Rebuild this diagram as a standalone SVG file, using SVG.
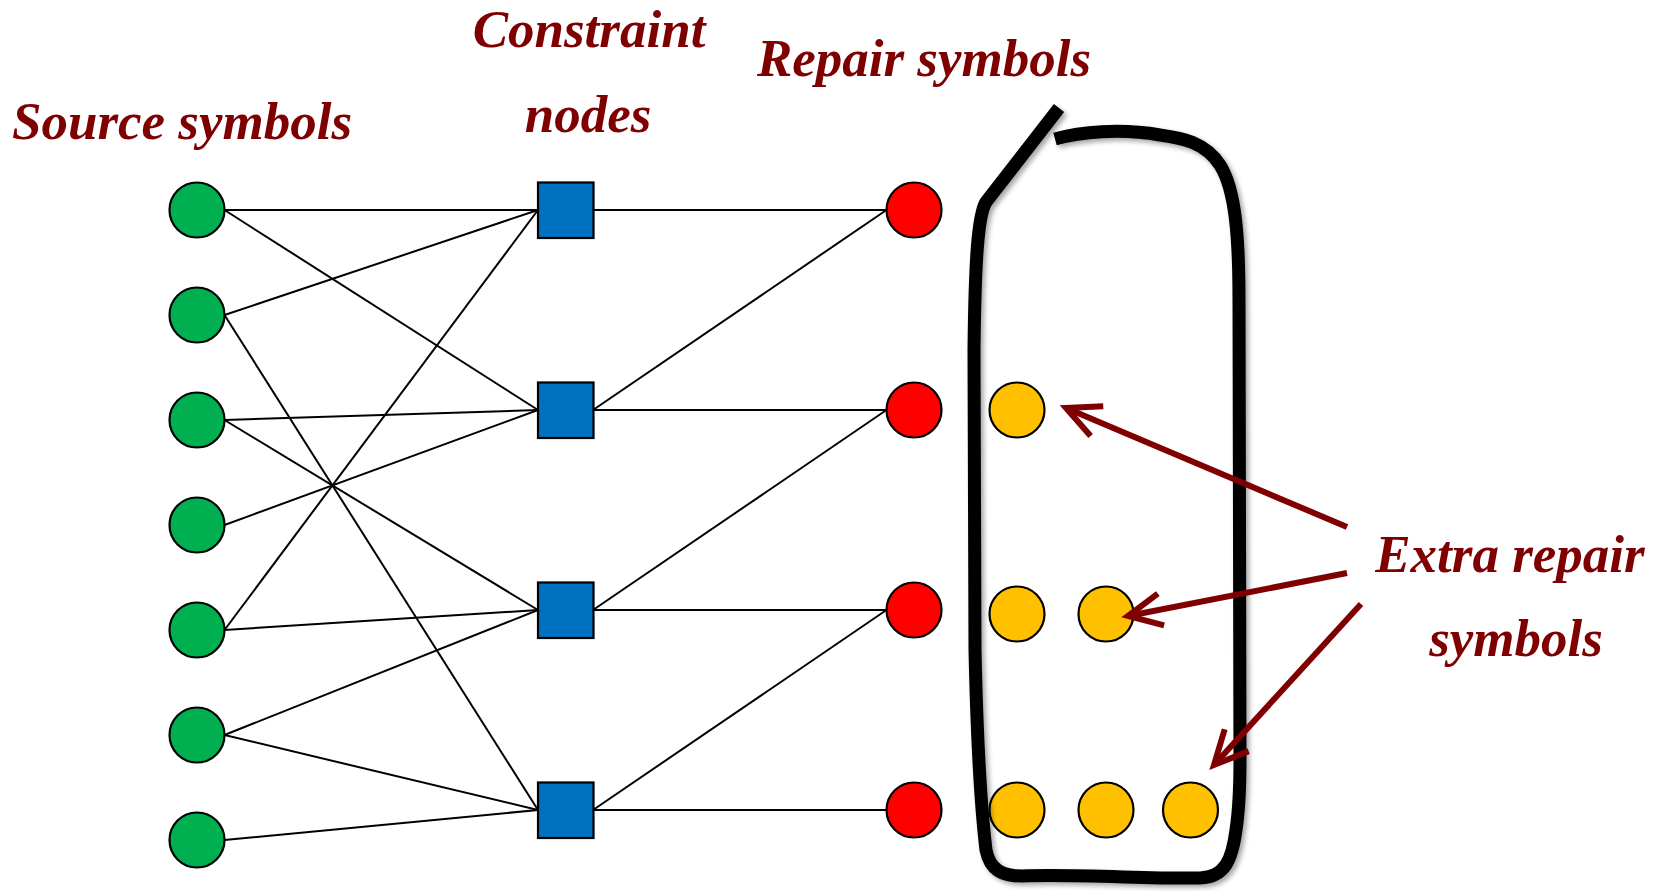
<svg xmlns="http://www.w3.org/2000/svg" width="1655" height="891" viewBox="0 0 1655 891">
<style>
.lbl{font-family:"Liberation Serif","Times New Roman",serif;font-weight:bold;font-style:italic;font-size:53px;fill:#7F0000;text-anchor:middle}
.edge{stroke:#000;stroke-width:2;fill:none}
.src{fill:#00B050;stroke:#000;stroke-width:2.2}
.cn{fill:#0070C0;stroke:#000;stroke-width:2.2}
.rep{fill:#FF0000;stroke:#000;stroke-width:2.2}
.ext{fill:#FFC000;stroke:#000;stroke-width:2.2}
.arr{stroke:#7F0000;stroke-width:6;fill:none;marker-end:url(#open)}
</style>
<defs>
<marker id="open" viewBox="-7 -4 9 8" markerWidth="9" markerHeight="8" refX="0" refY="0" orient="auto" markerUnits="strokeWidth">
<path d="M-5.6,-2.7 L0,0 L-5.6,2.7" fill="none" stroke="#7F0000" stroke-width="1" stroke-linejoin="miter"/>
</marker>
<filter id="shadow" x="-20%" y="-10%" width="140%" height="120%">
<feDropShadow dx="3" dy="3" stdDeviation="2.5" flood-color="#000" flood-opacity="0.35"/>
</filter>
</defs>
<rect width="1655" height="891" fill="#fff"/>

<g id="labels">
<text class="lbl" x="182" y="139">Source symbols</text>
<text class="lbl" x="589" y="47">Constraint</text>
<text class="lbl" x="588" y="132">nodes</text>
<text class="lbl" x="924" y="76">Repair symbols</text>
<text class="lbl" x="1510" y="572">Extra repair</text>
<text class="lbl" x="1516" y="656">symbols</text>
</g>

<g id="connectors">
<line class="edge" x1="224.5" y1="210" x2="538" y2="210"/>
<line class="edge" x1="224.5" y1="210" x2="538" y2="410"/>
<line class="edge" x1="224.5" y1="315" x2="538" y2="210"/>
<line class="edge" x1="224.5" y1="315" x2="538" y2="810"/>
<line class="edge" x1="224.5" y1="420" x2="538" y2="410"/>
<line class="edge" x1="224.5" y1="420" x2="538" y2="610"/>
<line class="edge" x1="224.5" y1="525" x2="538" y2="410"/>
<line class="edge" x1="224.5" y1="630" x2="538" y2="210"/>
<line class="edge" x1="224.5" y1="630" x2="538" y2="610"/>
<line class="edge" x1="224.5" y1="735" x2="538" y2="610"/>
<line class="edge" x1="224.5" y1="735" x2="538" y2="810"/>
<line class="edge" x1="224.5" y1="840" x2="538" y2="810"/>
<line class="edge" x1="593" y1="210" x2="886.5" y2="210"/>
<line class="edge" x1="593" y1="410" x2="886.5" y2="210"/>
<line class="edge" x1="593" y1="410" x2="886.5" y2="410"/>
<line class="edge" x1="593" y1="610" x2="886.5" y2="410"/>
<line class="edge" x1="593" y1="610" x2="886.5" y2="610"/>
<line class="edge" x1="593" y1="810" x2="886.5" y2="610"/>
<line class="edge" x1="593" y1="810" x2="886.5" y2="810"/>
</g>

<g id="source-symbols">
<circle id="s1" class="src" cx="197" cy="210" r="27.5"/>
<circle id="s2" class="src" cx="197" cy="315" r="27.5"/>
<circle id="s3" class="src" cx="197" cy="420" r="27.5"/>
<circle id="s4" class="src" cx="197" cy="525" r="27.5"/>
<circle id="s5" class="src" cx="197" cy="630" r="27.5"/>
<circle id="s6" class="src" cx="197" cy="735" r="27.5"/>
<circle id="s7" class="src" cx="197" cy="840" r="27.5"/>
</g>

<g id="constraint-nodes">
<rect id="c1" class="cn" x="538" y="182.5" width="55.5" height="55.5"/>
<rect id="c2" class="cn" x="538" y="382.5" width="55.5" height="55.5"/>
<rect id="c3" class="cn" x="538" y="582.5" width="55.5" height="55.5"/>
<rect id="c4" class="cn" x="538" y="782.5" width="55.5" height="55.5"/>
</g>

<g id="repair-symbols">
<circle id="r1" class="rep" cx="914" cy="210" r="27.5"/>
<circle id="r2" class="rep" cx="914" cy="410" r="27.5"/>
<circle id="r3" class="rep" cx="914" cy="610" r="27.5"/>
<circle id="r4" class="rep" cx="914" cy="810" r="27.5"/>
</g>

<g id="extra-repair-symbols">
<circle id="e1" class="ext" cx="1017" cy="410" r="27.5"/>
<circle id="e2" class="ext" cx="1017" cy="614" r="27.5"/>
<circle id="e3" class="ext" cx="1106" cy="614" r="27.5"/>
<circle id="e4" class="ext" cx="1017" cy="810" r="27.5"/>
<circle id="e5" class="ext" cx="1106" cy="810" r="27.5"/>
<circle id="e6" class="ext" cx="1190.5" cy="810" r="27.5"/>
</g>

<g id="outline" filter="url(#shadow)">
<path d="M1059,108 L986,202 C978,215 975,260 974,350 L975,650 C977,740 980,800 986,850 C990,870 1002,876 1022,876 C1080,874 1150,879 1200,878 C1225,877 1232,860 1236,830 C1239,810 1240,790 1240,760 L1239,300 C1239,240 1236,190 1220,165 C1205,142 1182,138 1160,135 C1120,128 1080,132 1055,139" fill="none" stroke="#000" stroke-width="13" stroke-linejoin="round"/>
</g>

<g id="arrows">
<line class="arr" x1="1347" y1="527" x2="1066" y2="408"/>
<line class="arr" x1="1347" y1="573" x2="1128" y2="616"/>
<line class="arr" x1="1361" y1="604" x2="1214" y2="765"/>
</g>
</svg>
